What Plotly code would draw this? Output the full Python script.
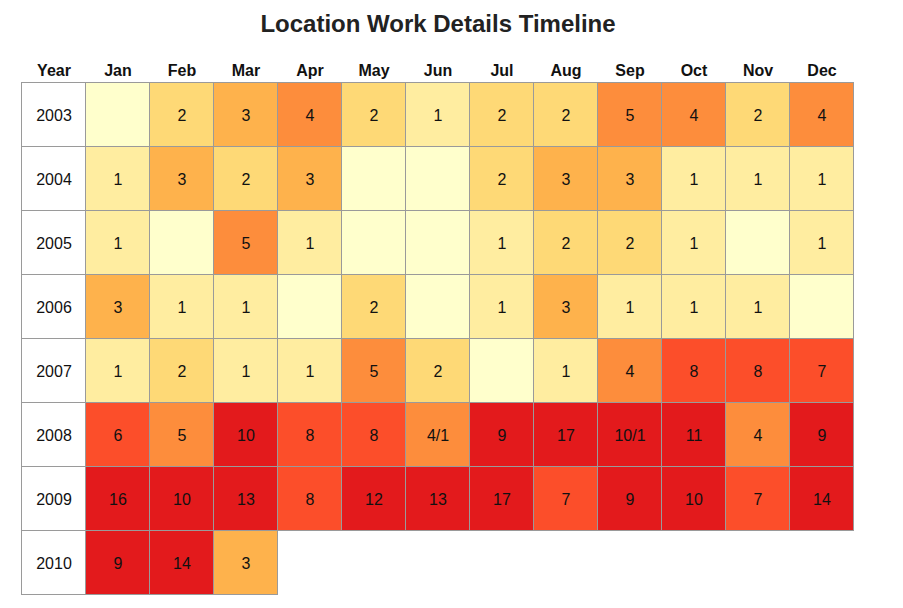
import plotly.graph_objects as go

# values
months = ['Jan', 'Feb', 'Mar', 'Apr', 'May', 'Jun',
          'Jul', 'Aug', 'Sep', 'Oct', 'Nov', 'Dec']
years = ['2003', '2004', '2005', '2006', '2007', '2008', '2009', '2010']

counts_2003 = [0, 2, 3, 4, 2, 1, 2, 2, 5, 4, 2, 4]
counts_2004 = [1, 3, 2, 3, 0, 0, 2, 3, 3, 1, 1, 1]
counts_2005 = [1, 0, 5, 1, 0, 0, 1, 2, 2, 1, 0, 1]
counts_2006 = [3, 1, 1, 0, 2, 0, 1, 3, 1, 1, 1, 0]
counts_2007 = [1, 2, 1, 1, 5, 2, 0, 1, 4, 8, 8, 7]
counts_2008 = [6, 5, 10, 8, 8, 4, 9, 17, 10, 11, 4, 9]
counts_2009 = [16, 10, 13, 8, 12, 13, 17, 7, 9, 10, 7, 14]
counts_2010 = [9, 14, 3]

# cells that show a split count
labels_2008 = ['6', '5', '10', '8', '8', '4/1', '9', '17', '10/1', '11', '4', '9']

# YlOrRd classes
palette = ['#ffffcc', '#ffeda0', '#fed976', '#feb24c', '#fd8d3c', '#fc4e2a', '#e31a1c']
breaks = [0.5, 1.5, 2.5, 3.5, 5.5, 8.5]
zmax = 18

rows = [counts_2003, counts_2004, counts_2005, counts_2006,
        counts_2007, counts_2008, counts_2009, counts_2010]

z = []
text = []
for yr, row in zip(years, rows):
    full = list(row) + [None] * (12 - len(row))
    z.append(full)
    if yr == '2008':
        text.append(labels_2008)
    else:
        text.append(['' if v in (0, None) else str(v) for v in full])

# step colour scale
colorscale = []
edges = [0] + [b / zmax for b in breaks] + [1]
for i, col in enumerate(palette):
    colorscale.append([edges[i], col])
    colorscale.append([edges[i + 1], col])

cols = ['Year'] + months
col_pos = list(range(len(cols)))
row_pos = list(range(len(years)))
grid = [[1] * (1 + len(r)) + [None] * (12 - len(r)) for r in rows]
border = '#9a9a9a'

fig = go.Figure()

# grey backing shows through the gaps as cell borders
fig.add_trace(go.Heatmap(
    x=col_pos, y=row_pos, z=grid,
    colorscale=[[0, border], [1, border]],
    showscale=False, hoverinfo='skip'
))

fig.add_trace(go.Heatmap(
    x=[0], y=row_pos, z=[[0] for _ in years],
    text=[[yr] for yr in years], texttemplate='%{text}',
    textfont=dict(size=16, color='#111'),
    colorscale=[[0, 'white'], [1, 'white']],
    showscale=False, xgap=1, ygap=1, hoverinfo='skip'
))

fig.add_trace(go.Heatmap(
    x=col_pos[1:], y=row_pos, z=z,
    text=text, texttemplate='%{text}',
    textfont=dict(size=16, color='#111'),
    colorscale=colorscale, zmin=0, zmax=zmax,
    showscale=False, xgap=1, ygap=1,
    hovertemplate='%{text}<extra></extra>'
))

# the page body adds an 8px offset, so margins are trimmed to match
fig.update_layout(
    width=903, height=608,
    margin=dict(l=14, r=57, t=75, b=21),
    paper_bgcolor='white', plot_bgcolor='white',
    font=dict(family='Liberation Sans, Arial, sans-serif', color='#111'),
    title=dict(
        text='<b>Location Work Details Timeline</b>',
        x=0.5, xref='paper', xanchor='center',
        y=1 - 16 / 608, yanchor='middle',
        font=dict(size=24, color='#222')
    ),
    xaxis=dict(
        side='top', showgrid=False, zeroline=False,
        showline=True, linecolor=border, linewidth=1,
        ticks='', tickfont=dict(size=16, color='#111'),
        tickvals=col_pos, ticktext=['<b>%s</b>' % c for c in cols],
        range=[-0.5, len(cols) - 0.5], fixedrange=True
    ),
    yaxis=dict(
        range=[len(years) - 0.5, -0.5], showticklabels=False, showgrid=False,
        zeroline=False, showline=True, linecolor=border, linewidth=1,
        ticks='', fixedrange=True
    ),
)

fig.write_html('out.html')
